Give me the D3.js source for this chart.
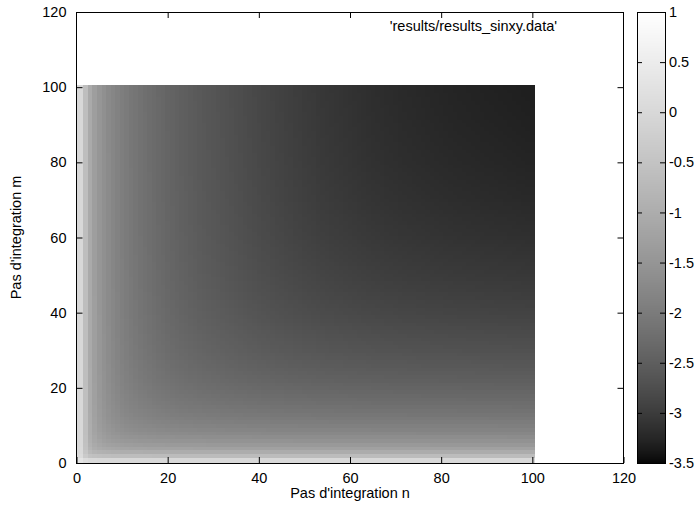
<!DOCTYPE html>
<html>
<head>
<meta charset="utf-8">
<script src="https://cdn.jsdelivr.net/npm/d3@7"></script>
<style>
  html, body { margin: 0; padding: 0; background: #fff; }
  svg { display: block; }
  text { font-family: "Liberation Sans", Arial, sans-serif; font-size: 14.5px; fill: #000; }
</style>
</head>
<body>
<svg id="chart" width="699" height="508"></svg>
<script>
// Integration steps along each direction (0..100)
const stepsN = d3.range(0, 101);
const stepsM = d3.range(0, 101);

// log10 of the error along the top edge (m = 100), one value per n
const levelAlongN = [
  0.00, 0.00, -0.60, -1.05, -1.30, -1.47, -1.60, -1.70, -1.79, -1.87,
  -1.94, -2.00, -2.06, -2.11, -2.16, -2.20, -2.24, -2.28, -2.32, -2.35,
  -2.39, -2.42, -2.45, -2.48, -2.50, -2.53, -2.55, -2.58, -2.60, -2.62,
  -2.64, -2.66, -2.68, -2.70, -2.72, -2.74, -2.76, -2.78, -2.80, -2.82,
  -2.84, -2.86, -2.87, -2.89, -2.91, -2.92, -2.94, -2.95, -2.97, -2.98,
  -3.00, -3.01, -3.02, -3.04, -3.05, -3.06, -3.07, -3.08, -3.09, -3.10,
  -3.11, -3.12, -3.13, -3.14, -3.15, -3.16, -3.165, -3.17, -3.18, -3.185,
  -3.19, -3.20, -3.205, -3.21, -3.215, -3.22, -3.225, -3.23, -3.235, -3.24,
  -3.245, -3.25, -3.255, -3.26, -3.263, -3.266, -3.27, -3.273, -3.276, -3.28,
  -3.283, -3.286, -3.29, -3.293, -3.296, -3.30, -3.303, -3.306, -3.31, -3.313,
  -3.316
];

// log10 of the error along the right edge (n = 100), one value per m
const levelAlongM = [
  0.00, 0.00, -0.65, -1.00, -1.25, -1.42, -1.55, -1.66, -1.76, -1.84,
  -1.91, -1.98, -2.04, -2.10, -2.15, -2.20, -2.25, -2.29, -2.33, -2.37,
  -2.41, -2.44, -2.48, -2.51, -2.54, -2.57, -2.60, -2.62, -2.65, -2.67,
  -2.70, -2.72, -2.74, -2.76, -2.78, -2.80, -2.82, -2.84, -2.86, -2.88,
  -2.90, -2.91, -2.93, -2.94, -2.96, -2.97, -2.99, -3.00, -3.01, -3.03,
  -3.04, -3.05, -3.06, -3.07, -3.08, -3.09, -3.10, -3.11, -3.12, -3.13,
  -3.14, -3.15, -3.155, -3.16, -3.17, -3.175, -3.18, -3.19, -3.195, -3.20,
  -3.21, -3.215, -3.22, -3.225, -3.23, -3.235, -3.24, -3.245, -3.25, -3.255,
  -3.26, -3.263, -3.266, -3.27, -3.273, -3.276, -3.28, -3.283, -3.286, -3.289,
  -3.292, -3.295, -3.298, -3.30, -3.302, -3.305, -3.307, -3.309, -3.311, -3.313,
  -3.316
];

const xTicks = [0, 20, 40, 60, 80, 100, 120];
const yTicks = [0, 20, 40, 60, 80, 100, 120];
const cbTicks = [1, 0.5, 0, -0.5, -1, -1.5, -2, -2.5, -3, -3.5];
const xLabel = "Pas d'integration n";
const yLabel = "Pas d'integration m";
const keyLabel = "'results/results_sinxy.data'";

// Errors of the two directions add up; the corner value is shared by both edges
const corner = Math.pow(10, levelAlongN[100]);
const cells = [];
stepsN.forEach((n, i) => {
  stepsM.forEach((m, j) => {
    const e = Math.pow(10, levelAlongN[i]) + Math.pow(10, levelAlongM[j]) - corner;
    cells.push({ n, m, v: Math.log10(e) });
  });
});

const svg = d3.select("#chart");
const pLeft = 76.5, pRight = 623.5, pTop = 12, pBottom = 463;
const fontSize = "14.5px";

const x = d3.scaleLinear().domain([0, 120]).range([pLeft, pRight]);
const y = d3.scaleLinear().domain([0, 120]).range([pBottom, pTop]);

// gnuplot-style gray palette with gamma 1.5
const cbMin = -3.5, cbMax = 1;
const gray = v => {
  const t = Math.max(0, Math.min(1, (v - cbMin) / (cbMax - cbMin)));
  const g = Math.round(255 * Math.pow(t, 1 / 1.5));
  return `rgb(${g},${g},${g})`;
};

svg.append("defs").append("clipPath").attr("id", "plotclip")
  .append("rect").attr("x", pLeft).attr("y", pTop)
  .attr("width", pRight - pLeft).attr("height", pBottom - pTop);

// Heat map cells, centred on each integer (n, m)
svg.append("g").attr("clip-path", "url(#plotclip)")
  .attr("shape-rendering", "crispEdges")
  .selectAll("rect").data(cells).join("rect")
  .attr("x", d => x(d.n - 0.5))
  .attr("y", d => y(d.m + 0.5))
  .attr("width", d => x(d.n + 0.5) - x(d.n - 0.5) + 0.5)
  .attr("height", d => y(d.m - 0.5) - y(d.m + 0.5) + 0.5)
  .attr("fill", d => gray(d.v));

// Axes with inward ticks on all four sides
const tickLen = 6;
const plain = d => String(d);
const axisStyle = g => {
  g.select(".domain").remove();
  g.selectAll(".tick line").attr("stroke", "#000");
  g.selectAll(".tick text").style("font-family", "Liberation Sans, Arial, sans-serif").style("font-size", fontSize);
};
svg.append("g").attr("transform", `translate(0,${pBottom})`)
  .call(d3.axisBottom(x).tickValues(xTicks).tickSizeInner(-tickLen).tickSizeOuter(0).tickPadding(10).tickFormat(plain))
  .call(axisStyle);
svg.append("g").attr("transform", `translate(0,${pTop})`)
  .call(d3.axisTop(x).tickValues(xTicks.slice(1, -1)).tickSizeInner(-tickLen).tickSizeOuter(0).tickFormat(""))
  .call(axisStyle);
svg.append("g").attr("transform", `translate(${pLeft},0)`)
  .call(d3.axisLeft(y).tickValues(yTicks).tickSizeInner(-tickLen).tickSizeOuter(0).tickPadding(10).tickFormat(plain))
  .call(axisStyle);
svg.append("g").attr("transform", `translate(${pRight},0)`)
  .call(d3.axisRight(y).tickValues(yTicks.slice(1, -1)).tickSizeInner(-tickLen).tickSizeOuter(0).tickFormat(""))
  .call(axisStyle);

svg.append("rect").attr("x", pLeft).attr("y", pTop)
  .attr("width", pRight - pLeft).attr("height", pBottom - pTop)
  .attr("fill", "none").attr("stroke", "#000").attr("stroke-width", 1)
  .attr("shape-rendering", "crispEdges");

// Key entry
svg.append("text").attr("x", 557).attr("y", 31).attr("text-anchor", "end").text(keyLabel);

// Axis titles
svg.append("text").attr("x", (pLeft + pRight) / 2).attr("y", 498)
  .attr("text-anchor", "middle").text(xLabel);
svg.append("text").attr("transform", `translate(21,${(pTop + pBottom) / 2}) rotate(-90)`)
  .attr("text-anchor", "middle").text(yLabel);

// Colour box
const cbLeft = 637, cbRight = 665;
const cbY = d3.scaleLinear().domain([cbMin, cbMax]).range([pBottom, pTop]);
const cbSteps = d3.range(0, 451);
svg.append("g").attr("shape-rendering", "crispEdges")
  .selectAll("rect").data(cbSteps).join("rect")
  .attr("x", cbLeft).attr("width", cbRight - cbLeft)
  .attr("y", i => pBottom - (i + 1) * (pBottom - pTop) / cbSteps.length)
  .attr("height", (pBottom - pTop) / cbSteps.length + 0.6)
  .attr("fill", i => gray(cbMin + (i + 0.5) / cbSteps.length * (cbMax - cbMin)));

svg.append("g").attr("transform", `translate(${cbRight},0)`)
  .call(d3.axisRight(cbY).tickValues(cbTicks).tickSizeInner(-5).tickSizeOuter(0).tickPadding(4).tickFormat(plain))
  .call(axisStyle);
svg.append("g").attr("transform", `translate(${cbLeft},0)`)
  .call(d3.axisLeft(cbY).tickValues(cbTicks.slice(1, -1)).tickSizeInner(-5).tickSizeOuter(0).tickFormat(""))
  .call(axisStyle);
svg.append("rect").attr("x", cbLeft).attr("y", pTop)
  .attr("width", cbRight - cbLeft).attr("height", pBottom - pTop)
  .attr("fill", "none").attr("stroke", "#000").attr("stroke-width", 1)
  .attr("shape-rendering", "crispEdges");
</script>
</body>
</html>
